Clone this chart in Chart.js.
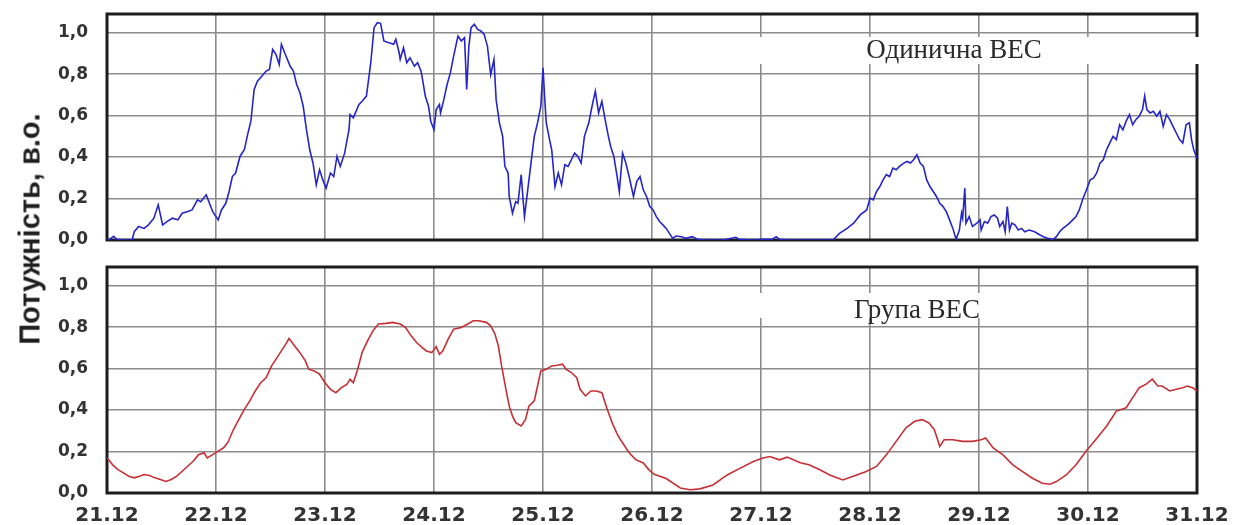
<!DOCTYPE html>
<html>
<head>
<meta charset="utf-8">
<script src="https://cdn.jsdelivr.net/npm/chart.js@4.4.1/dist/chart.umd.min.js"></script>
<style>
  html, body { margin:0; padding:0; background:#fff; }
  #wrap { position:relative; width:1245px; height:525px; background:#fff; overflow:hidden; }
  canvas { position:absolute; left:0; }
  #ytitle { position:absolute; left:30px; top:229px; transform:translate(-50%,-50%) rotate(-90deg);
            font: bold 29px "Liberation Sans", Arial, sans-serif; color:#1e1e1e; white-space:nowrap; }
</style>
</head>
<body>
<div id="wrap">
  <canvas id="c1" width="1245" height="250" style="top:0"></canvas>
  <canvas id="c2" width="1245" height="275" style="top:250px"></canvas>
  <div id="ytitle">Потужність, в.о.</div>
</div>
<script>
// ---- data ----
const dayTicks = [21,22,23,24,25,26,27,28,29,30,31];
const tickSuffix = '.12';
const yTicks = [0,0.2,0.4,0.6,0.8,1.0];

const singleLabel = 'Одинична ВЕС';
const groupLabel = 'Група ВЕС';

const singleDays = [21.00,21.03,21.06,21.09,21.15,21.23,21.25,21.29,21.34,21.38,21.43,21.47,21.51,21.55,21.60,21.65,21.69,21.74,21.78,21.83,21.86,21.91,21.94,21.97,
22.02,22.05,22.09,22.12,22.15,22.18,22.22,22.26,22.29,22.32,22.35,22.38,22.42,22.46,22.49,22.52,22.55,22.58,22.60,22.63,22.68,22.71,22.74,22.77,22.80,22.83,22.86,22.89,22.92,22.95,22.98,
23.01,23.05,23.08,23.11,23.14,23.18,23.22,23.23,23.26,23.31,23.34,23.38,23.42,23.45,23.48,23.51,23.54,23.58,23.63,23.65,23.68,23.69,23.72,23.75,23.78,23.82,23.85,23.88,23.89,23.92,23.95,23.97,
24.00,24.02,24.05,24.06,24.09,24.12,24.15,24.18,24.22,24.25,24.28,24.30,24.32,24.34,24.37,24.40,24.43,24.46,24.49,24.52,24.55,24.57,24.60,24.63,24.65,24.68,24.69,24.72,24.75,24.77,24.80,24.82,24.83,24.86,24.89,24.92,24.95,24.98,
25.00,25.02,25.03,25.06,25.08,25.11,25.14,25.17,25.20,25.23,25.26,25.29,25.32,25.35,25.38,25.42,25.45,25.48,25.51,25.54,25.57,25.60,25.62,25.65,25.68,25.70,25.73,25.76,25.79,25.83,25.86,25.89,25.92,25.95,25.98,
26.01,26.04,26.07,26.10,26.13,26.16,26.19,26.22,26.27,26.31,26.37,26.42,26.50,26.65,26.77,26.80,26.93,
27.02,27.10,27.14,27.17,27.26,27.66,27.72,27.79,27.85,27.91,27.97,
28.00,28.03,28.06,28.09,28.12,28.15,28.18,28.21,28.24,28.27,28.31,28.34,28.37,28.40,28.43,28.46,28.49,28.52,28.55,28.58,28.61,28.64,28.67,28.70,28.73,28.76,28.79,28.82,28.84,28.85,28.87,28.88,28.91,28.94,28.98,
29.01,29.02,29.05,29.08,29.11,29.14,29.17,29.19,29.22,29.24,29.26,29.28,29.30,29.33,29.36,29.39,29.42,29.46,29.51,29.56,29.59,29.63,29.68,29.71,29.74,29.77,29.80,29.83,29.86,29.89,29.92,29.95,29.98,
30.02,30.05,30.08,30.11,30.14,30.17,30.20,30.23,30.26,30.29,30.32,30.35,30.38,30.41,30.44,30.47,30.50,30.52,30.54,30.57,30.60,30.63,30.66,30.69,30.72,30.75,30.78,30.81,30.84,30.87,30.90,30.93,30.95,30.97,31.00];
const singleVals = [0.00,0.005,0.018,0.003,0.00,0.00,0.04,0.065,0.056,0.073,0.105,0.17,0.073,0.089,0.105,0.097,0.129,0.137,0.145,0.194,0.185,0.218,0.177,0.137,
0.097,0.145,0.177,0.234,0.306,0.323,0.403,0.435,0.508,0.573,0.726,0.766,0.79,0.815,0.823,0.919,0.895,0.847,0.944,0.903,0.839,0.815,0.75,0.71,0.645,0.532,0.435,0.371,0.266,0.339,0.29,
0.25,0.323,0.306,0.403,0.355,0.419,0.532,0.605,0.589,0.653,0.669,0.694,0.855,1.024,1.048,1.045,0.96,0.952,0.944,0.968,0.903,0.871,0.927,0.855,0.879,0.839,0.855,0.815,0.79,0.694,0.645,0.573,
0.532,0.629,0.653,0.613,0.677,0.75,0.806,0.887,0.984,0.96,0.976,0.726,0.935,1.024,1.04,1.016,1.008,0.992,0.935,0.798,0.871,0.677,0.565,0.5,0.355,0.323,0.21,0.129,0.185,0.177,0.315,0.177,0.113,0.242,0.371,0.5,0.565,0.645,
0.831,0.645,0.565,0.484,0.435,0.258,0.323,0.266,0.363,0.355,0.387,0.419,0.403,0.371,0.5,0.565,0.645,0.718,0.613,0.669,0.581,0.5,0.452,0.403,0.306,0.234,0.419,0.371,0.306,0.21,0.282,0.306,0.242,0.21,0.161,
0.145,0.113,0.089,0.073,0.056,0.032,0.008,0.019,0.016,0.008,0.016,0.003,0.00,0.00,0.013,0.003,0.00,
0.003,0.003,0.016,0.003,0.00,0.00,0.032,0.056,0.081,0.121,0.145,
0.202,0.194,0.234,0.258,0.29,0.315,0.306,0.347,0.339,0.355,0.371,0.379,0.371,0.387,0.411,0.371,0.355,0.29,0.258,0.234,0.21,0.177,0.161,0.137,0.097,0.056,0.003,0.048,0.129,0.105,0.25,0.081,0.113,0.065,0.081,
0.097,0.048,0.089,0.081,0.113,0.121,0.105,0.065,0.089,0.04,0.161,0.048,0.081,0.073,0.048,0.056,0.04,0.048,0.04,0.024,0.016,0.008,0.003,0.016,0.04,0.056,0.068,0.081,0.097,0.113,0.145,0.194,0.234,
0.29,0.298,0.323,0.371,0.387,0.435,0.468,0.5,0.484,0.556,0.532,0.573,0.605,0.556,0.581,0.597,0.629,0.694,0.629,0.613,0.621,0.597,0.621,0.548,0.605,0.581,0.548,0.516,0.484,0.468,0.556,0.565,0.484,0.435,0.395];

const groupDays = [21.00,21.05,21.10,21.15,21.20,21.25,21.30,21.34,21.39,21.44,21.49,21.54,21.59,21.64,21.69,21.74,21.79,21.84,21.89,21.92,21.97,
22.02,22.07,22.11,22.16,22.21,22.26,22.31,22.36,22.41,22.46,22.51,22.56,22.61,22.64,22.67,22.72,22.77,22.82,22.85,22.90,22.95,
23.00,23.05,23.10,23.15,23.20,23.23,23.26,23.30,23.34,23.39,23.44,23.49,23.56,23.62,23.69,23.74,23.79,23.84,23.89,23.93,23.98,
24.02,24.05,24.08,24.13,24.18,24.25,24.31,24.36,24.41,24.48,24.52,24.56,24.59,24.62,24.66,24.69,24.72,24.75,24.80,24.84,24.87,24.92,24.95,24.98,
25.03,25.08,25.13,25.18,25.21,25.26,25.31,25.34,25.39,25.44,25.49,25.54,25.59,25.64,25.69,25.74,25.79,25.85,25.92,25.97,
26.02,26.13,26.26,26.35,26.44,26.56,26.69,26.81,26.93,27.01,27.08,27.17,27.24,27.36,27.44,27.54,27.63,27.75,27.84,27.96,
28.06,28.15,28.24,28.33,28.41,28.48,28.54,28.59,28.64,28.68,28.76,28.85,28.94,29.02,29.06,29.13,29.22,29.31,29.40,29.49,29.58,29.65,29.71,29.80,29.89,29.98,
30.07,30.17,30.26,30.35,30.41,30.47,30.53,30.59,30.64,30.68,30.75,30.81,30.87,30.91,30.96,31.00];
const groupVals = [0.17,0.137,0.113,0.097,0.081,0.073,0.081,0.089,0.084,0.073,0.065,0.056,0.065,0.081,0.105,0.129,0.153,0.185,0.194,0.169,0.185,
0.202,0.218,0.245,0.306,0.355,0.403,0.444,0.492,0.532,0.556,0.613,0.653,0.694,0.718,0.745,0.71,0.677,0.637,0.597,0.589,0.573,
0.532,0.50,0.484,0.508,0.524,0.548,0.532,0.597,0.677,0.734,0.782,0.815,0.818,0.823,0.815,0.798,0.758,0.726,0.702,0.685,0.677,
0.706,0.669,0.685,0.742,0.79,0.798,0.815,0.831,0.831,0.823,0.806,0.766,0.71,0.613,0.50,0.419,0.371,0.339,0.323,0.355,0.419,0.444,0.516,0.589,
0.597,0.613,0.616,0.621,0.597,0.581,0.556,0.50,0.468,0.492,0.492,0.484,0.403,0.331,0.274,0.234,0.194,0.161,0.145,0.113,
0.09,0.07,0.024,0.016,0.02,0.039,0.087,0.12,0.152,0.168,0.176,0.16,0.173,0.146,0.136,0.112,0.087,0.063,0.079,0.103,
0.128,0.184,0.249,0.314,0.346,0.354,0.338,0.306,0.225,0.257,0.257,0.249,0.249,0.257,0.265,0.217,0.184,0.136,0.103,0.071,0.047,0.042,0.055,0.087,0.136,0.20,
0.257,0.322,0.395,0.411,0.46,0.508,0.524,0.549,0.516,0.516,0.492,0.50,0.508,0.516,0.508,0.492];

// ---- helpers ----
const toXY = (xs, ys) => xs.map((x, i) => ({ x: x, y: ys[i] }));
const TICK_COLOR = '#333';
const GRID_COLOR = '#8c8c8c';

const framePlugin = {
  id: 'frame',
  beforeDatasetsDraw(chart, args, o) {
    const { ctx, chartArea: a } = chart;
    ctx.save();
    ctx.strokeStyle = '#1c1c1c';
    ctx.lineWidth = 3;
    ctx.strokeRect(a.left, a.top, a.right - a.left, a.bottom - a.top);
    if (o.band) {
      ctx.fillStyle = '#ffffff';
      ctx.fillRect(o.band[0], o.band[1], o.band[2], o.band[3]);
    }
    ctx.restore();
  },
  afterDatasetsDraw(chart, args, o) {
    const { ctx } = chart;
    if (!o.text) return;
    ctx.save();
    ctx.font = '27px "Liberation Serif", "Times New Roman", serif';
    ctx.fillStyle = '#2a2a2a';
    ctx.textAlign = 'center';
    ctx.textBaseline = 'middle';
    ctx.fillText(o.text, o.tx, o.ty);
    ctx.restore();
  }
};

function makeOptions(showX, frameOpts, padTop, padBottom, xHeight) {
  return {
    responsive: false,
    animation: false,
    devicePixelRatio: 1,
    layout: { padding: { left: 0, right: 48, top: padTop, bottom: padBottom } },
    plugins: { legend: { display: false }, tooltip: { enabled: false }, frame: frameOpts },
    elements: { point: { radius: 0 }, line: { tension: 0 } },
    scales: {
      x: {
        type: 'linear', min: dayTicks[0], max: dayTicks[dayTicks.length - 1],
        afterBuildTicks: s => { s.ticks = dayTicks.map(v => ({ value: v })); },
        afterFit: s => { s.height = xHeight; s.paddingLeft = 0; s.paddingRight = 0; },
        border: { display: false },
        grid: { color: GRID_COLOR, lineWidth: 1.6, drawTicks: false },
        ticks: {
          display: showX, autoSkip: false, maxRotation: 0, padding: 11,
          color: TICK_COLOR, font: { family: '"DejaVu Sans", Verdana, sans-serif', size: 20, weight: 'bold' },
          callback: v => v + tickSuffix
        }
      },
      y: {
        type: 'linear', min: 0, max: 1.09,
        afterBuildTicks: s => { s.ticks = yTicks.map(v => ({ value: v })); },
        afterFit: s => { s.width = 107; s.paddingTop = 0; s.paddingBottom = 0; },
        border: { display: false },
        grid: { color: GRID_COLOR, lineWidth: 1.6, drawTicks: false },
        ticks: {
          padding: 19, color: TICK_COLOR,
          font: { family: '"DejaVu Sans", Verdana, sans-serif', size: 17, weight: 'bold' },
          callback: v => v.toFixed(1).replace('.', ',')
        }
      }
    }
  };
}

new Chart(document.getElementById('c1'), {
  type: 'line',
  data: { datasets: [{ label: singleLabel, data: toXY(singleDays, singleVals),
    borderColor: '#2626c8', borderWidth: 1.6, fill: false }] },
  options: makeOptions(false, { text: singleLabel, tx: 954, ty: 51, band: [740, 37, 505, 27] }, 14, 10, 0),
  plugins: [framePlugin]
});

new Chart(document.getElementById('c2'), {
  type: 'line',
  data: { datasets: [{ label: groupLabel, data: toXY(groupDays, groupVals),
    borderColor: '#c62f35', borderWidth: 1.6, fill: false }] },
  options: makeOptions(true, { text: groupLabel, tx: 917, ty: 61, band: [740, 43, 340, 25] }, 17, 0, 32),
  plugins: [framePlugin]
});
</script>
</body>
</html>
